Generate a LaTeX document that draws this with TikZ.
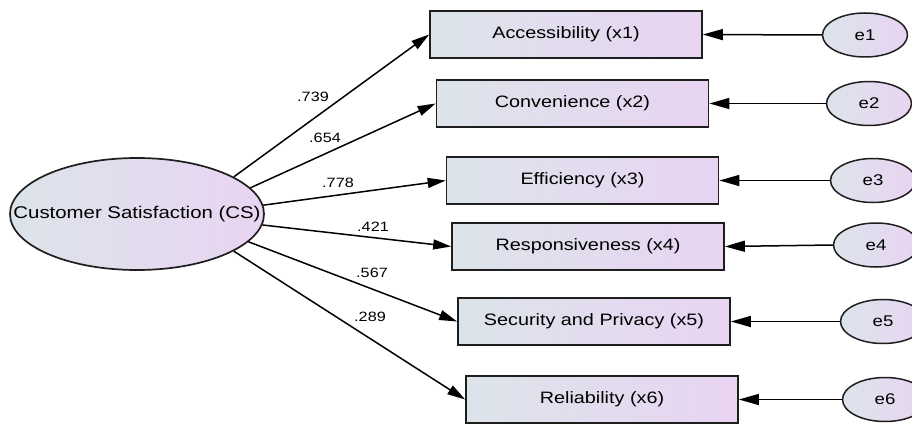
\documentclass[tikz,border=0pt]{standalone}
\usepackage{fontspec}
\setmainfont{Liberation Sans}[FakeStretch=1.2]
\usetikzlibrary{arrows.meta,shapes.geometric}
\definecolor{shadeL}{RGB}{220,228,234}
\definecolor{shadeR}{RGB}{233,212,242}
\definecolor{edge}{RGB}{30,30,30}
\begin{document}
\begin{tikzpicture}[x=1pt,y=-1pt,
  obs/.style={draw=edge, line width=1.7pt, shading=axis, left color=shadeL, right color=shadeR,
    minimum width=272pt, minimum height=47pt, inner sep=0pt, font=\fontsize{16.5}{18}\selectfont},
  errnode/.style={ellipse, draw=edge, line width=1.5pt, shading=axis, left color=shadeL, right color=shadeR,
    minimum width=85pt, minimum height=44pt, inner sep=0pt, font=\fontsize{15.5}{17}\selectfont},
  latent/.style={ellipse, draw=edge, line width=1.7pt, shading=axis, left color=shadeL, right color=shadeR,
    minimum width=254pt, minimum height=112pt, inner sep=0pt},
  load/.style={line width=1.5pt, -{Triangle[length=18pt,width=10pt]}},
  errline/.style={line width=1.5pt, -{Triangle[length=20pt,width=11pt]}},
  wt/.style={font=\fontsize{13.5}{15}\selectfont, inner sep=0pt}]
\useasboundingbox (0,0) rectangle (912,425);
\fill[white] (0,0) rectangle (912,425);

\node[latent] (cs) at (137,214) {};
\node[font=\fontsize{17}{19}\selectfont] (cst) at (cs.center) {Customer Satisfaction (CS)};

\node[obs] (b1) at (566,34.5) {Accessibility (x1)};
\node[obs] (b2) at (572.5,103.5) {Convenience (x2)};
\node[obs] (b3) at (582.5,180.5) {Efficiency (x3)};
\node[obs] (b4) at (588,246.5) {Responsiveness (x4)};
\node[obs] (b5) at (594,321.5) {Security and Privacy (x5)};
\node[obs] (b6) at (602,399.5) {Reliability (x6)};

\node[errnode] (e1) at (865,35) {e1};
\node[errnode] (e2) at (869,103.5) {e2};
\node[errnode] (e3) at (873,180.5) {e3};
\node[errnode] (e4) at (876,245) {e4};
\node[errnode] (e5) at (883,321.5) {e5};
\node[errnode] (e6) at (885,399.5) {e6};

\draw[load] (cs.21) -- (b1.west);
\draw[load] (cs.13) -- (b2.west);
\draw[load] (cs.4) -- (b3.west);
\draw[load] (cs.-5) -- (b4.west);
\draw[load] (cs.-14) -- (b5.west);
\draw[load] (cs.-21) -- (b6.west);

\draw[errline] (e1.west) -- (b1.east);
\draw[errline] (e2.west) -- (b2.east);
\draw[errline] (e3.west) -- (b3.east);
\draw[errline] (e4.west) -- (b4.east);
\draw[errline] (e5.west) -- (b5.east);
\draw[errline] (e6.west) -- (b6.east);

\node[wt] (w1) at (313,97) {.739};
\node[wt] (w2) at (325,138) {.654};
\node[wt] (w3) at (338,183) {.778};
\node[wt] (w4) at (373,227) {.421};
\node[wt] (w5) at (372,273) {.567};
\node[wt] (w6) at (370,317) {.289};
\end{tikzpicture}
\end{document}
